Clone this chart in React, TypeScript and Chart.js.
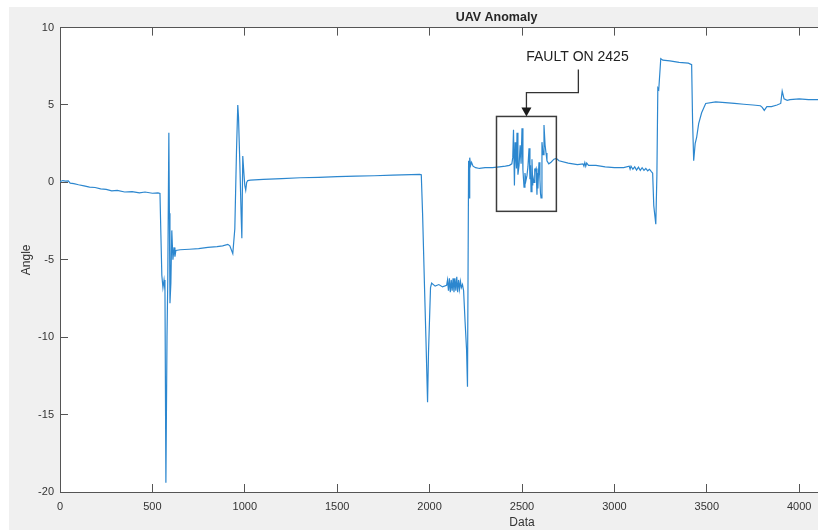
import React, { useEffect, useRef } from 'react';
import { Chart, registerables } from 'chart.js';

Chart.register(...registerables);

// ---- data ----
const dataX = [
  0, 15, 30, 45, 55, 75, 100, 130, 160, 190, 220, 250, 280, 310, 350, 390, 430, 460, 500, 530,
  541, 546, 551, 557, 563, 568, 573, 579, 583, 589, 592, 595, 600, 605, 611, 617, 622, 627,
  650, 700, 750, 800, 850, 880, 908, 919, 935, 946, 955, 962, 966, 973, 980, 984, 989, 995,
  1000, 1005, 1010, 1016, 1030, 1100, 1200, 1300, 1400, 1500, 1600, 1700, 1800, 1900, 1946,
  1955, 1962, 1973, 1980, 1989, 1994, 2000, 2005, 2011, 2030, 2050, 2070, 2092,
  2097, 2102, 2107, 2112, 2117, 2122, 2127, 2132, 2137, 2142, 2147, 2152, 2157, 2162, 2167, 2172, 2178,
  2184, 2192, 2200, 2205, 2211, 2214, 2217, 2222, 2227, 2235, 2249, 2270, 2300, 2340, 2378, 2410,
  2432, 2445, 2450, 2454, 2459, 2463, 2466, 2470, 2473, 2478, 2484, 2490, 2495, 2500, 2505, 2511,
  2516, 2521, 2527, 2532, 2538, 2543, 2546, 2549, 2554, 2558, 2560, 2565, 2568, 2570, 2576, 2581,
  2584, 2586, 2590, 2592, 2597, 2600, 2603, 2608, 2614, 2619, 2625, 2630, 2635, 2645, 2657, 2673,
  2686, 2700, 2750, 2800, 2830, 2835, 2840, 2845, 2850, 2860,
  2900, 2950, 3000, 3050, 3080, 3085, 3090, 3100, 3110, 3120, 3130, 3140, 3150, 3160, 3170, 3180,
  3190, 3200, 3207, 3213, 3224, 3230, 3235, 3240, 3251, 3262, 3300, 3350, 3400, 3418, 3423, 3429,
  3437, 3445, 3456, 3472, 3494, 3548, 3600, 3650, 3700, 3750, 3790, 3800, 3811, 3825, 3850, 3880,
  3900, 3908, 3918, 3935, 3950, 4000, 4050, 4120,
];
const angle = [
  0.05, 0.12, 0.08, 0.1, -0.05, -0.08, -0.15, -0.22, -0.3, -0.33, -0.42, -0.45, -0.55, -0.52, -0.62, -0.6, -0.68, -0.62, -0.7, -0.68,
  -0.72, -3.4, -6.0, -6.8, -6.3, -7.0, -19.4, -10.0, -6.5, 3.2, -2.0, -7.8, -6.5, -3.1, -5.0, -4.2, -4.8, -4.4,
  -4.35, -4.32, -4.28, -4.2, -4.15, -4.1, -4.0, -4.1, -4.6, -3.0, 2.0, 5.0, 4.2, 1.3, -2.0, -3.6, 1.7, 0.6,
  -0.2, -0.5, 0.0, 0.12, 0.15, 0.2, 0.25, 0.3, 0.33, 0.37, 0.4, 0.43, 0.47, 0.5, 0.52,
  0.5, -2.0, -7.0, -10.0, -14.2, -11.0, -8.7, -6.8, -6.5, -6.7, -6.6, -6.75, -6.65,
  -6.3, -7.0, -6.2, -7.1, -6.3, -7.0, -6.2, -7.1, -6.2, -7.0, -6.1, -7.1, -6.3, -6.9, -6.4, -6.8, -6.6,
  -7.0, -9.0, -10.8, -13.2, 1.4, -1.0, 1.6, 1.1, 1.3, 1.05, 0.95, 0.9, 0.95, 0.95, 1.0, 1.05,
  1.1, 1.2, 1.6, 3.4, -0.2, 2.6, 1.8, 0.9, 3.2, 0.5, 1.1, 2.4, 1.2, 3.5, 0.8, -0.3,
  0.6, 0.1, 0.45, 1.0, 2.2, 0.2, 1.1, -0.6, 1.5, -0.2, 0.3, 0.0, 0.9, 0.7, 0.9, -0.8,
  0.6, -0.4, 0.8, 1.3, 0.2, -0.7, -1.0, 2.6, 1.8, 3.7, 2.4, 1.9, 1.4, 1.2, 1.3, 1.5,
  1.55, 1.4, 1.25, 1.15, 1.2, 1.05, 1.28, 1.05, 1.25, 1.1,
  1.1, 1.0, 0.95, 0.95, 1.05, 0.85, 1.05, 0.85, 1.0, 0.8, 0.98, 0.78, 0.95, 0.78, 0.9, 0.75,
  0.85, 0.7, 0.6, -1.5, -2.7, 0.5, 6.1, 6.0, 8.0, 7.9, 7.85, 7.75, 7.7, 7.6, 4.0, 1.4,
  2.5, 2.9, 3.8, 4.5, 5.1, 5.2, 5.15, 5.1, 5.05, 5.0, 4.95, 4.85, 4.65, 4.9, 4.9, 5.0,
  5.1, 5.9, 5.4, 5.3, 5.35, 5.4, 5.35, 5.35,
];

const xTickValues = [0, 500, 1000, 1500, 2000, 2500, 3000, 3500, 4000, 4500, 5000];
const xTickLabels = ['0', '500', '1000', '1500', '2000', '2500', '3000', '3500', '4000', '4500', '5000'];
const yTickValues = [-20, -15, -10, -5, 0, 5, 10];
const yTickLabels = ['-20', '-15', '-10', '-5', '0', '5', '10'];

const chartTitle = 'UAV Anomaly';
const xAxisLabel = 'Data';
const yAxisLabel = 'Angle';
const faultLabel = 'FAULT ON 2425';
// annotation box / arrow in data units
const faultBox = { x0: 2362, x1: 2686, y0: -1.87, y1: 4.26 };
const faultArrow = { startX: 2805, startY: 7.3, elbowY: 5.8, tipX: 2524, tipY: 4.26 };
const faultText = { x: 2800, y: 8.06 };

// ---- layout ----
const W = 1026;
const H = 523;
const AXIS = '#555555';
const TEXT = '#333333';
const FONT = "'Liberation Sans', Arial, Helvetica, sans-serif";

const plotBg = {
  id: 'plotBg',
  beforeDraw(chart: any) {
    const { ctx, chartArea: a } = chart;
    ctx.save();
    ctx.fillStyle = '#ffffff';
    ctx.fillRect(a.left, a.top, a.right - a.left, a.bottom - a.top);
    ctx.restore();
  },
};

const faultPlugin = {
  id: 'fault',
  afterDraw(chart: any) {
    const { ctx } = chart;
    const x = chart.scales.x;
    const y = chart.scales.y;
    const bx0 = x.getPixelForValue(faultBox.x0);
    const bx1 = x.getPixelForValue(faultBox.x1);
    const by0 = y.getPixelForValue(faultBox.y1);
    const by1 = y.getPixelForValue(faultBox.y0);
    ctx.save();
    ctx.strokeStyle = '#3c3c3c';
    ctx.lineWidth = 1.5;
    ctx.strokeRect(bx0, by0, bx1 - bx0, by1 - by0);

    const ax = x.getPixelForValue(faultArrow.startX);
    const ay0 = y.getPixelForValue(faultArrow.startY);
    const ay1 = y.getPixelForValue(faultArrow.elbowY);
    const tx = x.getPixelForValue(faultArrow.tipX);
    const ty = y.getPixelForValue(faultArrow.tipY);
    ctx.strokeStyle = '#333333';
    ctx.lineWidth = 1.3;
    ctx.beginPath();
    ctx.moveTo(ax, ay0);
    ctx.lineTo(ax, ay1);
    ctx.lineTo(tx, ay1);
    ctx.lineTo(tx, ty - 8);
    ctx.stroke();
    ctx.fillStyle = '#1a1a1a';
    ctx.beginPath();
    ctx.moveTo(tx - 5, ty - 9);
    ctx.lineTo(tx + 5, ty - 9);
    ctx.lineTo(tx, ty);
    ctx.closePath();
    ctx.fill();

    ctx.fillStyle = '#222222';
    ctx.font = `14px ${FONT}`;
    ctx.textAlign = 'center';
    ctx.textBaseline = 'middle';
    ctx.fillText(faultLabel, x.getPixelForValue(faultText.x), y.getPixelForValue(faultText.y));
    ctx.restore();
  },
};

export default function App() {
  const ref = useRef<HTMLCanvasElement | null>(null);

  useEffect(() => {
    if (!ref.current) return;
    const points = dataX.map((v, i) => ({ x: v, y: angle[i] }));
    const tickGrid = {
      display: true,
      drawOnChartArea: false,
      drawTicks: true,
      tickLength: -8,
      color: AXIS,
      tickColor: AXIS,
      lineWidth: 1,
    };
    const chart = new Chart(ref.current, {
      type: 'line',
      data: {
        datasets: [
          {
            data: points,
            borderColor: '#2c87cf',
            borderWidth: 1.2,
            pointRadius: 0,
            tension: 0,
            fill: false,
          },
        ],
      },
      options: {
        animation: false,
        responsive: false,
        devicePixelRatio: 1,
        parsing: true,
        events: [],
        layout: { padding: { left: 0, right: W - 975, top: 0, bottom: 0 } },
        plugins: {
          legend: { display: false },
          tooltip: { enabled: false },
          title: {
            display: true,
            text: chartTitle,
            color: '#262626',
            font: { family: FONT, size: 12.5, weight: 'bold' },
            padding: { top: 2.5, bottom: 2.5 },
          },
        },
        scales: {
          x: {
            type: 'linear',
            position: 'bottom',
            min: 0,
            max: 5000,
            afterBuildTicks: (s: any) => {
              s.ticks = xTickValues.map((v) => ({ value: v }));
            },
            afterFit: (s: any) => {
              s.height = 38;
            },
            ticks: {
              color: TEXT,
              font: { family: FONT, size: 11 },
              padding: 16,
              maxRotation: 0,
              autoSkip: false,
              callback: (v: any) => {
                const i = xTickValues.indexOf(Number(v));
                return i >= 0 ? xTickLabels[i] : '';
              },
            },
            grid: tickGrid,
            border: { display: true, color: AXIS, width: 1 },
            title: {
              display: true,
              text: xAxisLabel,
              color: TEXT,
              font: { family: FONT, size: 12 },
              padding: { top: 0, bottom: 0.3 },
            },
          },
          x2: {
            type: 'linear',
            position: 'top',
            min: 0,
            max: 5000,
            afterBuildTicks: (s: any) => {
              s.ticks = xTickValues.map((v) => ({ value: v }));
            },
            afterFit: (s: any) => {
              s.height = 0;
            },
            ticks: { display: false },
            grid: tickGrid,
            border: { display: true, color: AXIS, width: 1 },
          },
          y: {
            type: 'linear',
            position: 'left',
            min: -20,
            max: 10,
            afterBuildTicks: (s: any) => {
              s.ticks = yTickValues.map((v) => ({ value: v }));
            },
            afterFit: (s: any) => {
              s.width = 51;
            },
            ticks: {
              color: TEXT,
              font: { family: FONT, size: 11 },
              padding: 14,
              autoSkip: false,
              callback: (v: any) => {
                const i = yTickValues.indexOf(Number(v));
                return i >= 0 ? yTickLabels[i] : '';
              },
            },
            grid: tickGrid,
            border: { display: true, color: AXIS, width: 1 },
            title: {
              display: true,
              text: yAxisLabel,
              color: TEXT,
              font: { family: FONT, size: 12 },
              padding: { top: 10.8, bottom: 0 },
            },
          },
        },
      } as any,
      plugins: [plotBg, faultPlugin],
    });
    return () => chart.destroy();
  }, []);

  return (
    <div
      style={{
        position: 'absolute',
        left: 9,
        top: 7,
        width: 809,
        height: 523,
        overflow: 'hidden',
        background: '#f0f0f0',
      }}
    >
      <canvas ref={ref} width={W} height={H} style={{ display: 'block', width: W, height: H }} />
    </div>
  );
}
